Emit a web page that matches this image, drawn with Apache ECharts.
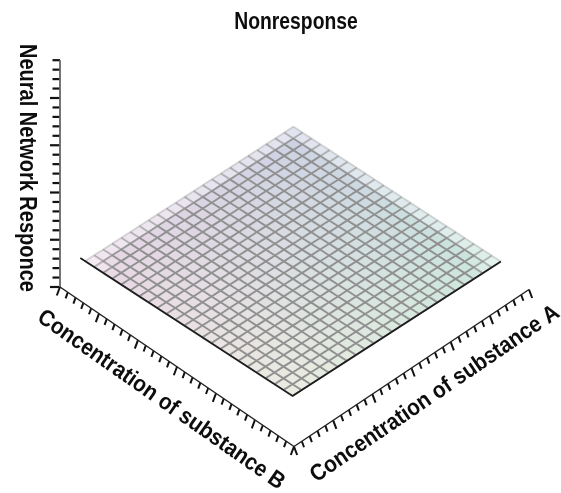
<!DOCTYPE html>
<html><head><meta charset="utf-8">
<style>html,body{margin:0;padding:0;background:#fff}#c{width:561px;height:493px}</style>
<script src="https://cdn.jsdelivr.net/npm/echarts@6/dist/echarts.min.js"></script>
</head><body><div id="c"></div>
<script>
// Data
const titleText = 'Nonresponse';
const axisNameA = 'Concentration of substance A';
const axisNameB = 'Concentration of substance B';
const axisNameZ = 'Neural Network Responce';
const ticksA = [0,1,2,3,4,5,6,7,8,9,10,11,12,13,14,15,16,17,18,19,20,21,22,23,24,25,26,27,28,29,30];
const ticksB = [0,1,2,3,4,5,6,7,8,9,10,11,12,13,14,15,16,17,18,19,20,21,22,23,24,25,26,27,28,29,30];
const ticksZ = [0,1,2,3,4,5,6,7,8,9,10,11,12,13,14,15,16,17,18,19,20,21,22,23,24];
// sampled concentrations of the surface mesh
const meshA = [1.6,2.76,3.91,5.07,6.23,7.38,8.54,9.7,10.85,12.01,13.17,14.32,15.48,16.64,17.79,18.95,20.11,21.26,22.42,23.58,24.73,25.89,27.04,28.2];
const meshB = [1.6,2.76,3.91,5.07,6.23,7.38,8.54,9.7,10.85,12.01,13.17,14.32,15.48,16.64,17.79,18.95,20.11,21.26,22.42,23.58,24.73,25.89,27.04,28.2];
// nearly flat response: contribution of each concentration
const responseA = [0,-.02,-.04,-.07,-.09,-.11,-.13,-.15,-.17,-.2,-.22,-.24,-.26,-.28,-.3,-.33,-.35,-.37,-.39,-.41,-.43,-.46,-.48,-.5];
const responseB = [2.75,2.78,2.81,2.84,2.87,2.9,2.93,2.96,2.99,3.02,3.05,3.08,3.12,3.15,3.18,3.21,3.24,3.27,3.3,3.33,3.36,3.39,3.42,3.45];
// surface tint at the corners [a-low/b-low, a-high/b-low, a-low/b-high, a-high/b-high]
const cornerTint = [[232,214,228],[205,209,228],[236,236,226],[200,230,220]];

// oblique 3-D projection of (a,b,z) on to the flat helper axes
const origin=[60,287], vecA=[235/30,-157/30], vecB=[234/30,159.5/30], vecZ=[0,-9.45];
const proj=(a,b,z)=>[origin[0]+a*vecA[0]+b*vecB[0]+z*vecZ[0], origin[1]+a*vecA[1]+b*vecB[1]+z*vecZ[1]];
const surf=(i,j)=>proj(meshA[i],meshB[j],responseA[i]+responseB[j]);
const n=meshA.length-1, m=meshB.length-1;
// soft (blurred) rim of the surface
const rim=(u,v)=>{
  const edge=Math.min(v,1-u)/0.05;
  const corner=Math.min(Math.hypot(u,v),Math.hypot(1-u,1-v))/0.12;
  return Math.max(.3,Math.min(1,.3+.7*Math.min(edge,corner)));
};
const tintAt=(u,v)=>{
  const c=[0,1,2].map(k=>Math.round((1-u)*(1-v)*cornerTint[0][k]+u*(1-v)*cornerTint[1][k]+(1-u)*v*cornerTint[2][k]+u*v*cornerTint[3][k]));
  return `rgb(${c[0]},${c[1]},${c[2]})`;
};
const cells=[]; for(let i=0;i<n;i++)for(let j=0;j<m;j++)cells.push([i,j]);
const meshSegs=[];
for(let i=0;i<=n;i++)for(let j=0;j<m;j++)meshSegs.push([i,j,i,j+1]);
for(let j=0;j<=m;j++)for(let i=0;i<n;i++)meshSegs.push([i,j,i+1,j]);
const tickRows=[];
ticksA.forEach(t=>tickRows.push(['A',t]));
ticksB.forEach(t=>tickRows.push(['B',t]));
ticksZ.forEach(t=>tickRows.push(['Z',t]));
const titles=[
  {text:titleText,pos:[296,23],rot:0,size:23,sx:.84},
  {text:axisNameZ,pos:[26,168],rot:-90,size:23,sx:.87},
  {text:axisNameB,pos:[161,400],rot:-35,size:23,sx:.905},
  {text:axisNameA,pos:[435,394],rot:34.3,size:23,sx:.905}
];

const chart=echarts.init(document.getElementById('c'),null,{renderer:'canvas'});
const textFont='"Liberation Sans","Arial",sans-serif';
chart.setOption({
  animation:false,backgroundColor:'#fff',
  grid:{left:0,right:0,top:0,bottom:0},
  xAxis:{type:'value',min:0,max:561,show:false},
  yAxis:{type:'value',min:0,max:493,inverse:true,show:false},
  series:[
   {type:'custom',coordinateSystem:'cartesian2d',data:cells,silent:true,clip:false,
    renderItem:(p,api)=>{
      const i=api.value(0),j=api.value(1);
      const pts=[surf(i,j),surf(i+1,j),surf(i+1,j+1),surf(i,j+1)].map(q=>api.coord(q));
      const u=(i+.5)/n,v=(j+.5)/m,f=tintAt(u,v);
      return {type:'polygon',shape:{points:pts},style:{fill:f,stroke:f,lineWidth:.5,opacity:rim(u,v)}};
    }},
   {type:'custom',coordinateSystem:'cartesian2d',data:meshSegs,silent:true,clip:false,
    renderItem:(p,api)=>{
      const s=meshSegs[p.dataIndex];
      const a=api.coord(surf(s[0],s[1])),b=api.coord(surf(s[2],s[3]));
      const u=(s[0]+s[2])/2/n,v=(s[1]+s[3])/2/m;
      return {type:'line',shape:{x1:a[0],y1:a[1],x2:b[0],y2:b[1]},style:{stroke:'#909090',lineWidth:1.9,opacity:rim(u,v)}};
    }},
   // front edges of the surface
   {type:'line',data:[proj(meshA[0],meshB[0]-.6,responseA[0]+responseB[0]),surf(0,m),surf(n,m)],showSymbol:false,silent:true,clip:false,z:3,lineStyle:{color:'#1c1c1c',width:1.6}},
   // axis lines
   {type:'line',data:[proj(0,0,0),proj(0,0,24)],showSymbol:false,silent:true,clip:false,lineStyle:{color:'#666',width:1.8}},
   {type:'line',data:[proj(0,0,0),proj(0,30,0),proj(30,30,0)],showSymbol:false,silent:true,clip:false,lineStyle:{color:'#222',width:1.5}},
   // ticks
   {type:'custom',coordinateSystem:'cartesian2d',data:tickRows,silent:true,clip:false,
    renderItem:(p,api)=>{
      const [axis,t]=tickRows[p.dataIndex], major=t%5===0;
      let s,d;
      if(axis==='Z'){s=proj(0,0,t);d=major?[-10,0]:[-7.5,0];}
      else if(axis==='B'){s=proj(0,t,0);d=major?[-3.2,8.5]:[-2.2,6];}
      else{s=proj(t,30,0);d=major?[3.2,8.5]:[2.2,6];}
      const a=api.coord(s),b=api.coord([s[0]+d[0],s[1]+d[1]]);
      return {type:'line',shape:{x1:a[0],y1:a[1],x2:b[0],y2:b[1]},style:{stroke:'#111',lineWidth:axis==='Z'?2.2:2}};
    }},
   // title and axis titles
   {type:'custom',coordinateSystem:'cartesian2d',data:titles.map((t,i)=>[i]),silent:true,clip:false,
    renderItem:(p,api)=>{
      const t=titles[p.dataIndex],c=api.coord(t.pos);
      return {type:'text',x:c[0],y:c[1],rotation:t.rot*Math.PI/180,scaleX:t.sx,scaleY:1,
        style:{text:t.text,align:'center',verticalAlign:'middle',fontFamily:textFont,fontSize:t.size,fontWeight:'bold',fill:'#0d0d0d'}};
    }}
  ]
});
</script></body></html>
